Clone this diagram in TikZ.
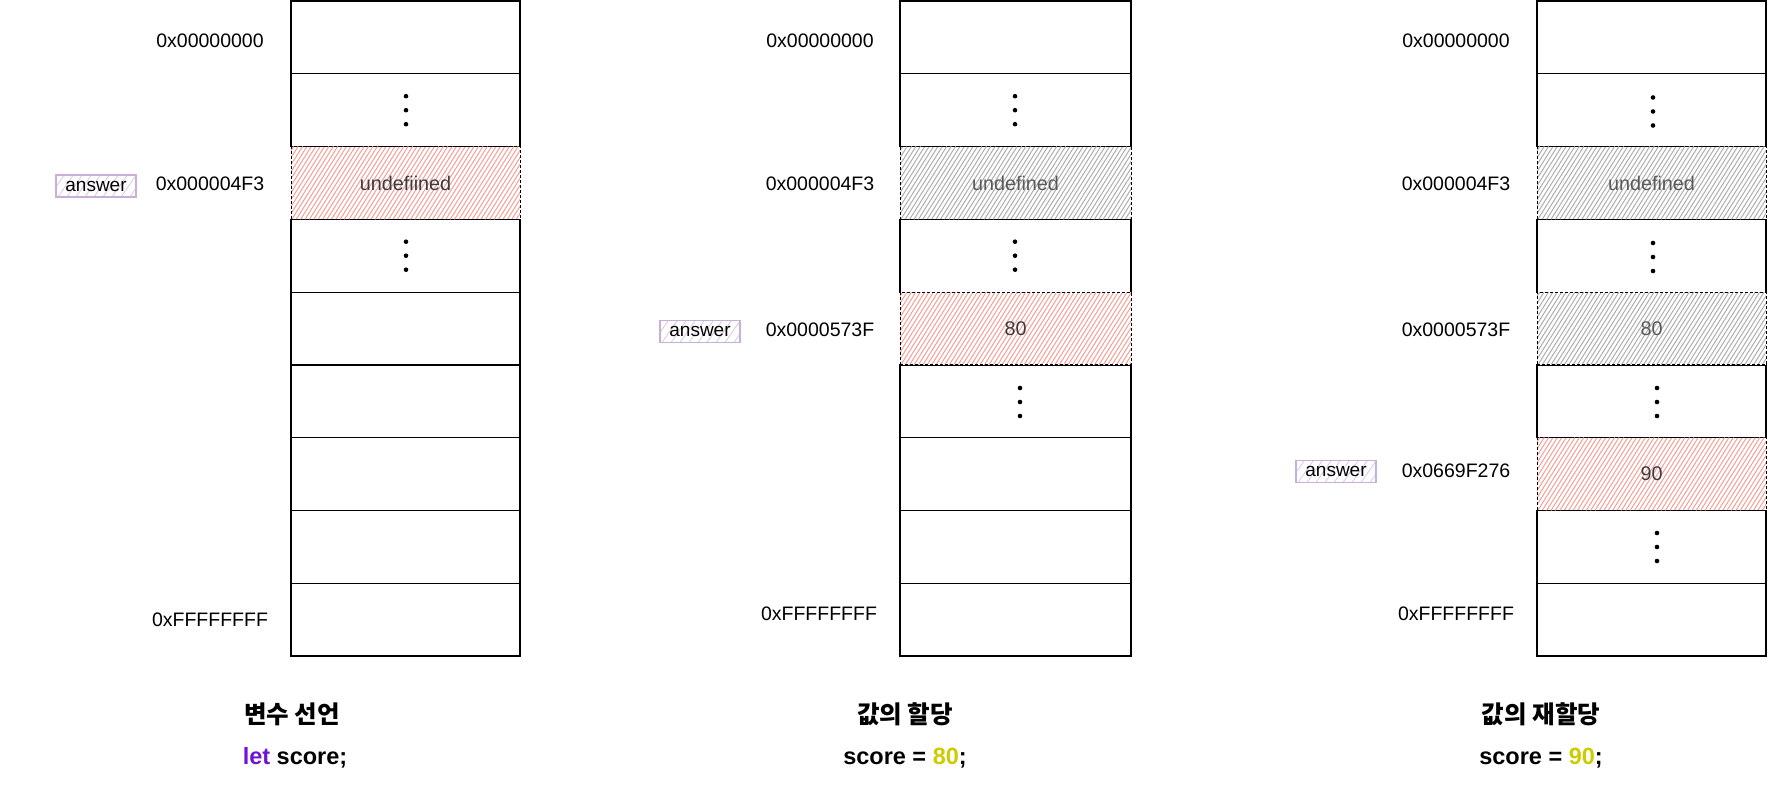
\documentclass[tikz,border=0pt]{standalone}
\usepackage{fontspec}
\setmainfont{Liberation Sans}
\newfontfamily\kr{Noto Sans CJK KR}
\definecolor{hatchred}{RGB}{246,160,152}
\definecolor{hatchgray}{RGB}{175,175,175}
\definecolor{answerline}{RGB}{200,175,215}
\definecolor{answerhatch}{RGB}{215,200,228}
\definecolor{letpurple}{RGB}{110,20,210}
\definecolor{numyellow}{RGB}{204,204,0}
\definecolor{celltext}{RGB}{60,60,60}
\definecolor{graytext}{RGB}{90,90,90}
\tikzset{
  lbl/.style={font=\fontsize{19.5}{23}\selectfont, inner sep=0pt},
  cell/.style={draw=black, line width=1.2pt, fill=white, minimum height=72.78pt, inner sep=0pt, font=\fontsize{19.8}{23}\selectfont},
  hatchcell/.style={cell, dash pattern=on 3pt off 2pt, line width=1pt,
    path picture={
      \foreach \i in {-52,-47.6,...,236}
        \draw[#1, line width=1pt, solid] ([xshift=\i pt]path picture bounding box.south west) -- ++(46,-73);
    }},
  answerbox/.style={draw=answerline, line width=1.6pt, minimum width=80pt, minimum height=22pt, inner sep=0pt,
    font=\fontsize{19}{22}\selectfont,
    path picture={
      \foreach \i in {-16,-7,...,84}
        \draw[answerhatch, line width=0.8pt] ([xshift=\i pt]path picture bounding box.south west) -- ++(16,-23);
    }},
  title/.style={font=\kr\bfseries\fontsize{24.5}{28}\selectfont, inner sep=0pt},
  code/.style={font=\bfseries\fontsize{23.5}{27}\selectfont, inner sep=0pt},
}
\newcommand{\vdotsat}[2]{%
  \fill (#1,#2-14) circle[radius=2.3pt];
  \fill (#1,#2) circle[radius=2.3pt];
  \fill (#1,#2+14) circle[radius=2.3pt];}
\begin{document}
\begin{tikzpicture}[x=1pt,y=-1pt]
\useasboundingbox (0,0) rectangle (1768,789);

% ---------- column 1 ----------
\foreach \r in {1,2,4,5,6,7,8,9}
  \node[cell, minimum width=229pt] (a\r) at (405.5,{1+(\r-0.5)*72.78}) {};
\node[hatchcell=hatchred, minimum width=229pt, text=celltext] (a3) at (405.5,182.95) {undefiined};
\vdotsat{406}{110.2}
\vdotsat{406}{255.7}

\node[lbl] (a-addr1) at (210,41) {0x00000000};
\node[lbl] (a-addr3) at (210,184) {0x000004F3};
\node[lbl] (a-addr9) at (210,620) {0xFFFFFFFF};
\node[answerbox] (a-ans) at (96,186) {answer};

\node[title] (a-title) at (292,714) {변수 선언};
\node[code] (a-code) at (295,758) {\textcolor{letpurple}{let} score;};

% ---------- column 2 ----------
\foreach \r in {1,2,4,6,7,8,9}
  \node[cell, minimum width=231pt] (b\r) at (1015.5,{1+(\r-0.5)*72.78}) {};
\node[hatchcell=hatchgray, minimum width=231pt, text=graytext] (b3) at (1015.5,182.95) {undefined};
\node[hatchcell=hatchred, minimum width=231pt, text=celltext] (b5) at (1015.5,328.51) {80};
\vdotsat{1015}{110.2}
\vdotsat{1015}{255.7}
\vdotsat{1020}{402}

\node[lbl] (b-addr1) at (820,41) {0x00000000};
\node[lbl] (b-addr3) at (820,184) {0x000004F3};
\node[lbl] (b-addr5) at (820,330) {0x0000573F};
\node[lbl] (b-addr9) at (819,614) {0xFFFFFFFF};
\node[answerbox] (b-ans) at (700,331.5) {answer};

\node[title] (b-title) at (905,714) {값의 할당};
\node[code] (b-code) at (905,758) {score = \textcolor{numyellow}{80};};

% ---------- column 3 ----------
\foreach \r in {1,2,4,6,8,9}
  \node[cell, minimum width=229pt] (c\r) at (1651.5,{1+(\r-0.5)*72.78}) {};
\node[hatchcell=hatchgray, minimum width=229pt, text=graytext] (c3) at (1651.5,182.95) {undefined};
\node[hatchcell=hatchgray, minimum width=229pt, text=graytext] (c5) at (1651.5,328.51) {80};
\node[hatchcell=hatchred, minimum width=229pt, text=celltext] (c7) at (1651.5,474.07) {90};
\vdotsat{1653}{111.5}
\vdotsat{1653}{257}
\vdotsat{1657}{402}
\vdotsat{1657}{547}

\node[lbl] (c-addr1) at (1456,41) {0x00000000};
\node[lbl] (c-addr3) at (1456,184) {0x000004F3};
\node[lbl] (c-addr5) at (1456,330) {0x0000573F};
\node[lbl] (c-addr7) at (1456,471) {0x0669F276};
\node[lbl] (c-addr9) at (1456,614) {0xFFFFFFFF};
\node[answerbox] (c-ans) at (1336,471.5) {answer};

\node[title] (c-title) at (1541,714) {값의 재할당};
\node[code] (c-code) at (1541,758) {score = \textcolor{numyellow}{90};};
\end{tikzpicture}
\end{document}
